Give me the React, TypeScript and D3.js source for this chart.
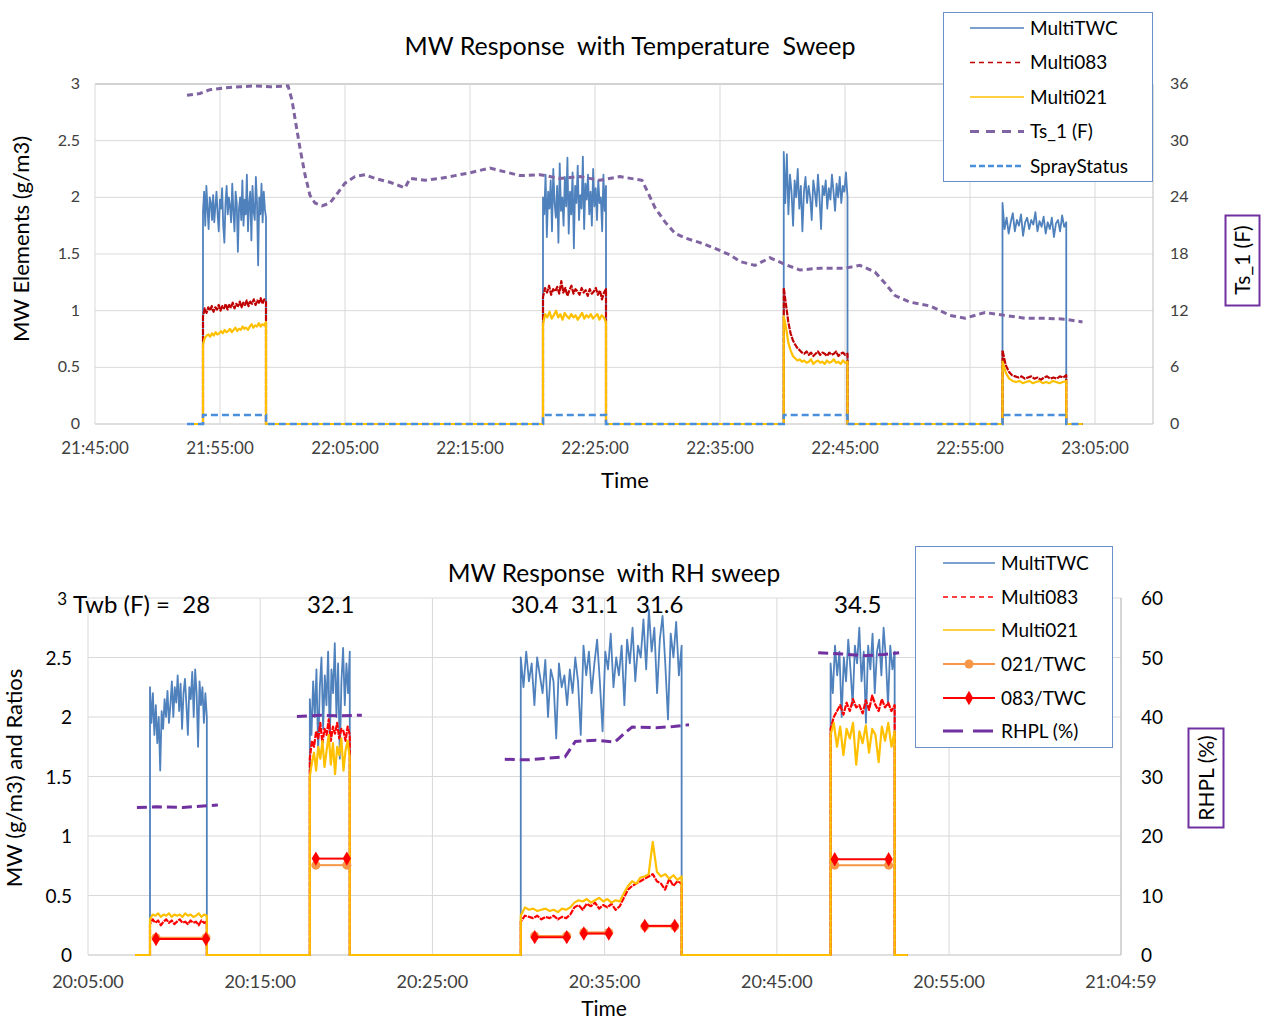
import React from 'react';
import * as d3 from 'd3';

const FONT = "Lato, 'Open Sans', sans-serif";

// ---------- TOP CHART DATA (minutes since 21:45:00) ----------
const topXTicks = [0, 10, 20, 30, 40, 50, 60, 70, 80];
const topYTicks = [0, 0.5, 1, 1.5, 2, 2.5, 3];
const topYRTicks = [0, 6, 12, 18, 24, 30, 36];
const topBase = [7.36, 79.0];
const topSegTimes = [[8.64, 13.68], [35.84, 40.88], [55.1, 60.2], [72.6, 77.7]];
const sprayLevel = 0.08;

const topTWC = [
  [1.88,2.05,1.75,2.1,1.9,1.72,2.0,1.95,1.8,2.02,1.78,1.92,2.05,1.85,1.7,1.98,1.9,2.08,1.75,1.6,1.95,2.1,1.85,2.0,1.92,1.78,2.12,1.88,1.7,2.05,1.95,1.52,1.9,2.0,1.8,2.15,1.75,1.98,1.85,2.2,1.7,1.95,2.05,1.62,2.1,1.88,1.8,2.18,1.95,1.4,2.0,1.85,2.12,1.78,2.05,1.9,1.82],
  [2.0,1.85,2.2,1.65,2.05,1.9,2.15,1.7,2.25,1.95,1.82,2.1,1.6,2.3,1.88,2.0,1.75,2.18,1.92,2.35,1.68,2.05,1.85,2.22,1.55,2.1,1.95,2.28,1.8,2.02,1.9,2.36,1.72,2.12,1.98,2.2,1.85,2.05,1.75,2.25,1.92,2.08,1.8,2.15,1.95,2.0,1.7,2.2,1.88,2.1],
  [2.4,1.95,2.38,1.85,2.2,2.05,1.75,2.15,2.0,2.25,1.9,2.1,1.7,2.05,2.18,1.95,2.1,2.0,1.8,2.15,2.05,1.92,2.2,2.0,1.72,2.1,2.02,2.15,1.9,2.08,1.98,2.2,2.05,1.88,2.12,2.0,2.18,1.95,2.1,2.05,2.22,2.0],
  [1.95,1.72,1.82,1.68,1.78,1.86,1.7,1.8,1.75,1.85,1.66,1.78,1.82,1.72,1.8,1.76,1.87,1.7,1.79,1.74,1.83,1.68,1.78,1.72,1.82,1.65,1.77,1.8,1.7,1.84,1.74,1.78],
];
const top083 = [
  [0.95,1.02,0.98,1.03,1.0,1.04,0.99,1.03,1.01,1.05,1.0,1.04,1.02,1.06,1.01,1.05,1.03,1.07,1.02,1.06,1.04,1.08,1.03,1.07,1.05,1.09,1.04,1.08,1.06,1.1,1.05,1.09,1.07,1.11,1.06,1.1,1.08],
  [1.12,1.2,1.16,1.22,1.14,1.19,1.17,1.21,1.15,1.26,1.16,1.2,1.13,1.18,1.22,1.15,1.19,1.17,1.14,1.2,1.16,1.18,1.13,1.19,1.15,1.17,1.2,1.14,1.18,1.1,1.16,1.19],
  [1.2,1.05,0.9,0.8,0.74,0.7,0.67,0.65,0.63,0.62,0.64,0.61,0.63,0.6,0.62,0.64,0.61,0.63,0.62,0.6,0.63,0.61,0.62,0.64,0.6,0.62,0.63,0.61,0.62],
  [0.65,0.52,0.46,0.43,0.42,0.41,0.42,0.4,0.41,0.42,0.4,0.41,0.39,0.41,0.42,0.4,0.41,0.4,0.42,0.41,0.43],
];
const top021 = [
  [0.7,0.76,0.78,0.79,0.77,0.8,0.78,0.81,0.79,0.8,0.82,0.8,0.83,0.81,0.82,0.84,0.81,0.83,0.85,0.82,0.84,0.83,0.86,0.84,0.85,0.83,0.86,0.88,0.85,0.87,0.86,0.89,0.86,0.88,0.87,0.9],
  [0.88,0.97,0.94,0.99,0.93,0.96,1.0,0.94,0.97,0.92,0.98,0.95,0.93,0.97,0.94,0.96,0.92,0.95,0.98,0.93,0.96,0.94,0.97,0.93,0.95,0.97,0.92,0.96,0.94,0.9],
  [0.95,0.85,0.72,0.65,0.6,0.58,0.56,0.57,0.55,0.56,0.54,0.55,0.57,0.53,0.55,0.56,0.54,0.55,0.53,0.56,0.54,0.55,0.57,0.54,0.55,0.53,0.56,0.54,0.55],
  [0.55,0.45,0.4,0.38,0.37,0.38,0.36,0.37,0.38,0.36,0.37,0.38,0.36,0.37,0.36,0.38,0.37,0.36,0.37,0.38],
];
// Ts_1 (F): [minute, degF]
const tsPoints: [number, number][] = [
  [7.36,34.8],[8.4,35.0],[9.2,35.4],[10.4,35.6],[11.6,35.7],[12.8,35.8],[14.0,35.7],[15.44,35.8],
  [15.76,34.3],[16.08,31.7],[16.4,29.2],[16.8,26.4],[17.2,24.2],[17.6,23.4],[18.16,23.1],[18.8,23.4],
  [19.44,24.5],[20.0,25.5],[20.8,26.2],[21.6,26.4],[22.4,26.0],[23.6,25.6],[24.8,25.0],[25.2,26.0],
  [26.4,25.8],[27.6,26.0],[28.8,26.3],[30.0,26.6],[31.6,27.1],[32.8,26.7],[34.0,26.3],[35.6,26.4],
  [37.2,26.0],[38.8,26.2],[40.4,25.8],[42.0,26.2],[43.76,25.8],[44.24,24.5],[44.8,22.9],[45.6,21.4],
  [46.4,20.2],[47.2,19.7],[48.4,19.2],[49.6,18.6],[50.8,17.9],[51.6,17.2],[52.8,16.8],[54.0,17.6],
  [55.2,16.9],[56.4,16.3],[58.0,16.5],[60.0,16.5],[61.2,16.8],[62.4,16.1],[63.2,14.9],[64.0,13.6],
  [65.2,12.9],[66.8,12.5],[68.4,11.5],[69.6,11.2],[71.2,11.8],[72.8,11.5],[74.4,11.2],[76.0,11.2],
  [77.6,11.1],[79.0,10.8],
];

// ---------- BOTTOM CHART DATA (minutes since 20:05:00) ----------
const botXTicks = [0, 10, 20, 30, 40, 50, 59.9833];
const botXLabels = ['20:05:00', '20:15:00', '20:25:00', '20:35:00', '20:45:00', '20:55:00', '21:04:59'];
const botYTicks = [0, 0.5, 1, 1.5, 2, 2.5, 3];
const botYRTicks = [0, 10, 20, 30, 40, 50, 60];
const botBase = [2.73, 47.6];
const botSegTimes = [[3.6, 6.9], [12.88, 15.2], [25.13, 34.47], [43.12, 46.84]];

const botTWC = [
  [2.25,1.95,2.2,1.85,2.1,1.78,2.0,1.55,2.05,1.9,2.15,2.0,2.22,1.95,2.1,2.3,2.0,2.25,2.12,2.35,2.05,2.28,1.9,2.2,2.32,2.1,1.85,2.25,2.15,2.38,2.0,2.4,2.2,1.75,2.3,2.1,2.25,1.95,2.2,2.0],
  [2.15,1.85,2.3,2.0,2.4,1.7,2.25,2.5,1.9,2.35,2.1,2.55,1.8,2.4,2.2,2.62,2.0,2.45,1.65,2.3,2.58,2.1,2.45,2.2,2.55],
  [2.5,2.25,2.55,2.3,2.45,2.1,2.5,2.35,2.2,2.48,2.0,2.4,2.3,1.82,2.45,2.25,2.35,2.1,2.4,2.2,2.5,2.3,1.85,2.6,2.35,2.55,2.2,2.45,2.65,2.3,1.88,2.55,2.4,2.7,2.25,2.5,2.35,2.6,2.1,2.65,2.45,2.75,2.3,2.6,2.5,2.82,2.4,2.9,2.55,2.75,2.2,2.65,2.85,2.45,1.98,2.7,2.5,2.8,2.35,2.6],
  [2.45,2.2,2.6,2.35,2.55,2.0,2.5,2.3,2.65,2.4,2.1,2.6,2.45,2.75,2.3,2.55,1.95,2.6,2.4,2.7,2.2,2.55,2.65,2.35,2.75,2.5,2.1,2.6,2.4,2.55],
];
const bot083 = [
  [0.26,0.3,0.27,0.29,0.25,0.28,0.3,0.27,0.29,0.26,0.28,0.3,0.27,0.28,0.26,0.29,0.27,0.28,0.25,0.29,0.27,0.28],
  [1.65,1.8,1.75,1.88,1.82,1.95,1.78,1.9,1.85,1.98,1.8,1.92,1.86,1.95,1.82,1.9,1.88,1.8,1.92,1.85],
  [0.28,0.33,0.32,0.31,0.33,0.3,0.32,0.31,0.33,0.3,0.32,0.31,0.34,0.4,0.42,0.38,0.43,0.41,0.44,0.39,0.42,0.4,0.43,0.38,0.41,0.48,0.55,0.58,0.6,0.62,0.64,0.66,0.68,0.62,0.6,0.55,0.64,0.58,0.62,0.6],
  [1.9,2.0,2.05,2.1,2.02,2.12,2.05,2.15,2.08,2.1,2.03,2.14,2.06,2.18,2.1,2.05,2.15,2.08,2.12,2.05,2.1],
];
const bot021 = [
  [0.3,0.34,0.33,0.35,0.32,0.34,0.33,0.35,0.32,0.34,0.33,0.34,0.32,0.35,0.33,0.34,0.32,0.33,0.35,0.32,0.34,0.33],
  [1.5,1.62,1.7,1.55,1.75,1.65,1.8,1.58,1.72,1.85,1.6,1.78,1.52,1.75,1.68,1.82,1.55,1.72,1.8,1.65],
  [0.33,0.4,0.38,0.39,0.37,0.38,0.39,0.37,0.38,0.36,0.39,0.38,0.4,0.44,0.46,0.45,0.47,0.44,0.46,0.48,0.45,0.47,0.44,0.46,0.45,0.52,0.58,0.62,0.6,0.65,0.66,0.68,0.95,0.7,0.66,0.68,0.64,0.67,0.63,0.66],
  [1.85,1.95,1.75,1.92,1.68,1.9,1.82,1.95,1.6,1.88,1.78,1.93,1.7,1.9,1.85,1.62,1.92,1.8,1.95,1.75,1.88],
];
// ratio segments: [startMin, endMin, value]
const ratio021: [number, number, number][] = [
  [3.95, 6.85, 0.145], [13.23, 15.03, 0.755], [25.94, 27.8, 0.16], [28.79, 30.24, 0.19], [32.33, 34.07, 0.24], [43.36, 46.49, 0.755],
];
const ratio083: [number, number, number][] = [
  [3.95, 6.85, 0.135], [13.23, 15.03, 0.81], [25.94, 27.8, 0.15], [28.79, 30.24, 0.18], [32.33, 34.07, 0.245], [43.36, 46.49, 0.805],
];
const rhplSegs: [number, number][][] = [
  [[2.84,24.8],[4.0,24.9],[5.5,24.8],[6.5,25.0],[7.54,25.2]],
  [[12.13,40.1],[13.5,40.3],[14.8,40.2],[15.9,40.3]],
  [[24.2,32.9],[25.5,32.8],[26.8,33.1],[27.7,33.3],[28.3,35.9],[29.5,36.1],[30.6,35.8],[31.2,37.4],[31.6,38.3],[33.0,38.2],[34.0,38.4],[34.9,38.7]],
  [[42.4,50.8],[43.8,50.6],[45.0,50.3],[46.2,50.5],[47.1,50.8]],
];
const twbLabels: [number, string][] = [[73, 'Twb (F) =  28'], [307, '32.1'], [511, '30.4'], [571, '31.1'], [636, '31.6'], [834, '34.5']];

const COL = {
  twc: '#4f81bd', r083top: '#c00000', r083: '#ff0000', y021: '#ffc000', ts: '#8064a2',
  spray: '#4a8fdc', rhpl: '#7030a0', o021: '#f79646', grid: '#d9d9d9', axis: '#bfbfbf', text: '#404040',
};
const PRE = { whiteSpace: 'pre' as const };

function buildSeries(base: number[], segs: number[][], vals: number[][]): [number, number][] {
  const pts: [number, number][] = [[base[0], 0]];
  segs.forEach(([s, e], i) => {
    const v = vals[i];
    pts.push([s, 0]);
    v.forEach((y, j) => pts.push([s + ((e - s) * j) / (v.length - 1), y]));
    pts.push([e, 0]);
  });
  pts.push([base[1], 0]);
  return pts;
}

function fmtTime(h: number, m: number, add: number) {
  const tot = h * 60 + m + add;
  const hh = Math.floor(tot / 60);
  const mm = Math.round(tot % 60);
  return `${hh}:${String(mm).padStart(2, '0')}:00`;
}

function TopChart() {
  const x = d3.scaleLinear().domain([0, 84.64]).range([95, 1153]);
  const y = d3.scaleLinear().domain([0, 3]).range([424, 84]);
  const yR = d3.scaleLinear().domain([0, 36]).range([424, 84]);
  const line = d3.line<[number, number]>().x(d => x(d[0])).y(d => y(d[1]));
  const lineR = d3.line<[number, number]>().x(d => x(d[0])).y(d => yR(d[1]));
  const twc = buildSeries(topBase, topSegTimes, topTWC);
  const m083 = buildSeries(topBase, topSegTimes, top083);
  const m021 = buildSeries(topBase, topSegTimes, top021);
  const spray = buildSeries(topBase, topSegTimes, topSegTimes.map(() => [sprayLevel, sprayLevel]));
  const legend = [
    { label: 'MultiTWC', color: COL.twc, dash: '', w: 1.5 },
    { label: 'Multi083', color: COL.r083top, dash: '5,4', w: 1.5 },
    { label: 'Multi021', color: COL.y021, dash: '', w: 1.5 },
    { label: 'Ts_1 (F)', color: COL.ts, dash: '9,7', w: 3 },
    { label: 'SprayStatus', color: COL.spray, dash: '6,3', w: 2.5 },
  ];
  return (
    <g>
      {topYTicks.map(t => (
        <line key={'gy' + t} x1={95} x2={1153} y1={y(t)} y2={y(t)} stroke={t === 0 ? COL.axis : t === 3 ? '#a6a6a6' : COL.grid} strokeWidth={1} />
      ))}
      {topXTicks.map(t => (
        <line key={'gx' + t} x1={x(t)} x2={x(t)} y1={84} y2={424} stroke={COL.grid} strokeWidth={1} />
      ))}
      <line x1={1153} x2={1153} y1={84} y2={424} stroke={COL.axis} />
      {topYTicks.map(t => (
        <text key={'ly' + t} x={80} y={y(t) + 5} textAnchor="end" fontSize={16} fill={COL.text}>{t}</text>
      ))}
      {topYRTicks.map(t => (
        <text key={'lr' + t} x={1170} y={yR(t) + 5} fontSize={16} fill={COL.text}>{t}</text>
      ))}
      {topXTicks.map(t => (
        <text key={'lx' + t} x={x(t)} y={454} textAnchor="middle" fontSize={17} fill={COL.text}>{fmtTime(21, 45, t)}</text>
      ))}
      <path d={line(twc)!} fill="none" stroke={COL.twc} strokeWidth={1.8} strokeLinejoin="round" />
      <path d={line(m083)!} fill="none" stroke={COL.r083top} strokeWidth={2.2} strokeDasharray="6,1" strokeLinejoin="round" />
      <path d={line(m021)!} fill="none" stroke={COL.y021} strokeWidth={2.2} strokeLinejoin="round" />
      <path d={lineR(tsPoints)!} fill="none" stroke={COL.ts} strokeWidth={3} strokeDasharray="6,4" />
      <path d={line(spray)!} fill="none" stroke={COL.spray} strokeWidth={2.5} strokeDasharray="7,4" />
      <text x={630} y={55} textAnchor="middle" fontSize={25} fill="#000" style={PRE}>MW Response  with Temperature  Sweep</text>
      <text x={625} y={488} textAnchor="middle" fontSize={22} fill="#000">Time</text>
      <text transform="translate(29,239) rotate(-90)" textAnchor="middle" fontSize={22} fill="#000">MW Elements (g/m3)</text>
      <rect x={1225.5} y={215.5} width={34} height={90} fill="none" stroke="#7030a0" strokeWidth={2} />
      <text transform="translate(1250,260) rotate(-90)" textAnchor="middle" fontSize={21} fill="#000">Ts_1 (F)</text>
      <rect x={943.5} y={12.5} width={209} height={169} fill="#fff" stroke="#6a8fca" strokeWidth={1} />
      {legend.map((l, i) => (
        <g key={l.label}>
          <line x1={970} x2={1024} y1={28 + i * 34.5} y2={28 + i * 34.5} stroke={l.color} strokeWidth={l.w} strokeDasharray={l.dash} />
          <text x={1030} y={34.5 + i * 34.5} fontSize={19} fill="#000">{l.label}</text>
        </g>
      ))}
    </g>
  );
}

function BottomChart() {
  const x = d3.scaleLinear().domain([0, 59.9833]).range([88, 1121]);
  const y = d3.scaleLinear().domain([0, 3]).range([955, 598]);
  const yR = d3.scaleLinear().domain([0, 60]).range([955, 598]);
  const line = d3.line<[number, number]>().x(d => x(d[0])).y(d => y(d[1]));
  const lineR = d3.line<[number, number]>().x(d => x(d[0])).y(d => yR(d[1]));
  const twc = buildSeries(botBase, botSegTimes, botTWC);
  const m083 = buildSeries(botBase, botSegTimes, bot083);
  const m021 = buildSeries(botBase, botSegTimes, bot021);
  const diamond = d3.symbol().type(d3.symbolDiamond).size(60)()!;
  const legendY = [563, 597, 630, 664, 698, 731];
  return (
    <g>
      {botYTicks.map(t => (
        <line key={'gy' + t} x1={88} x2={1121} y1={y(t)} y2={y(t)} stroke={t === 0 ? COL.axis : COL.grid} strokeWidth={1} />
      ))}
      {botXTicks.map(t => (
        <line key={'gx' + t} x1={x(t)} x2={x(t)} y1={598} y2={955} stroke={COL.grid} strokeWidth={1} />
      ))}
      <line x1={1121} x2={1121} y1={598} y2={955} stroke={COL.axis} />
      {botYTicks.map(t => (
        <text key={'ly' + t} x={t === 3 ? 67 : 72} y={y(t) + 7} textAnchor="end" fontSize={t === 3 ? 17 : 19} fill="#000">{t}</text>
      ))}
      {botYRTicks.map(t => (
        <text key={'lr' + t} x={1141} y={yR(t) + 7} fontSize={19} fill="#000">{t}</text>
      ))}
      {botXTicks.map((t, i) => (
        <text key={'lx' + t} x={x(t)} y={988} textAnchor="middle" fontSize={18} fill={COL.text}>{botXLabels[i]}</text>
      ))}
      <path d={line(twc)!} fill="none" stroke={COL.twc} strokeWidth={1.8} strokeLinejoin="round" />
      <path d={line(m083)!} fill="none" stroke={COL.r083} strokeWidth={2.2} strokeDasharray="6,1" strokeLinejoin="round" />
      <path d={line(m021)!} fill="none" stroke={COL.y021} strokeWidth={2.2} strokeLinejoin="round" />
      {ratio021.map((r, i) => (
        <g key={'o' + i}>
          <line x1={x(r[0])} x2={x(r[1])} y1={y(r[2])} y2={y(r[2])} stroke={COL.o021} strokeWidth={2} />
          <circle cx={x(r[0])} cy={y(r[2])} r={4.5} fill={COL.o021} />
          <circle cx={x(r[1])} cy={y(r[2])} r={4.5} fill={COL.o021} />
        </g>
      ))}
      {ratio083.map((r, i) => (
        <g key={'r' + i}>
          <line x1={x(r[0])} x2={x(r[1])} y1={y(r[2])} y2={y(r[2])} stroke={COL.r083} strokeWidth={2} />
          <path d={diamond} transform={`translate(${x(r[0])},${y(r[2])})`} fill={COL.r083} />
          <path d={diamond} transform={`translate(${x(r[1])},${y(r[2])})`} fill={COL.r083} />
        </g>
      ))}
      {rhplSegs.map((s, i) => (
        <path key={'rh' + i} d={lineR(s)!} fill="none" stroke={COL.rhpl} strokeWidth={3} strokeDasharray="10,5" />
      ))}
      {twbLabels.map(([px, s]) => (
        <text key={s} x={px} y={613} fontSize={24} fill="#000" style={PRE}>{s}</text>
      ))}
      <text x={614} y={582} textAnchor="middle" fontSize={24.5} fill="#000" style={PRE}>MW Response  with RH sweep</text>
      <text x={604} y={1016} textAnchor="middle" fontSize={21} fill="#000">Time</text>
      <text transform="translate(22,778) rotate(-90)" textAnchor="middle" fontSize={22} fill="#000">MW (g/m3) and Ratios</text>
      <rect x={1188.5} y={728.5} width={35} height={99} fill="none" stroke="#7030a0" strokeWidth={2} />
      <text transform="translate(1214,778) rotate(-90)" textAnchor="middle" fontSize={21} fill="#000">RHPL (%)</text>
      <rect x={915.5} y={546.5} width={197} height={201} fill="#fff" stroke="#6a8fca" strokeWidth={1} />
      <line x1={943} x2={995} y1={legendY[0]} y2={legendY[0]} stroke={COL.twc} strokeWidth={1.5} />
      <line x1={943} x2={995} y1={legendY[1]} y2={legendY[1]} stroke={COL.r083} strokeWidth={1.5} strokeDasharray="5,4" />
      <line x1={943} x2={995} y1={legendY[2]} y2={legendY[2]} stroke={COL.y021} strokeWidth={1.5} />
      <line x1={943} x2={995} y1={legendY[3]} y2={legendY[3]} stroke={COL.o021} strokeWidth={2} />
      <circle cx={969} cy={legendY[3]} r={4.5} fill={COL.o021} />
      <line x1={943} x2={995} y1={legendY[4]} y2={legendY[4]} stroke={COL.r083} strokeWidth={2} />
      <path d={diamond} transform={`translate(969,${legendY[4]})`} fill={COL.r083} />
      <line x1={943} x2={995} y1={legendY[5]} y2={legendY[5]} stroke={COL.rhpl} strokeWidth={3} strokeDasharray="20,10" />
      {['MultiTWC', 'Multi083', 'Multi021', '021/TWC', '083/TWC', 'RHPL (%)'].map((s, i) => (
        <text key={s} x={1001} y={legendY[i] + 6.5} fontSize={19} fill="#000">{s}</text>
      ))}
    </g>
  );
}

export default function App() {
  return (
    <svg width={1263} height={1022} style={{ position: 'absolute', left: 0, top: 0, fontFamily: FONT, background: '#fff' }}>
      <rect width={1263} height={1022} fill="#fff" />
      <TopChart />
      <BottomChart />
    </svg>
  );
}
